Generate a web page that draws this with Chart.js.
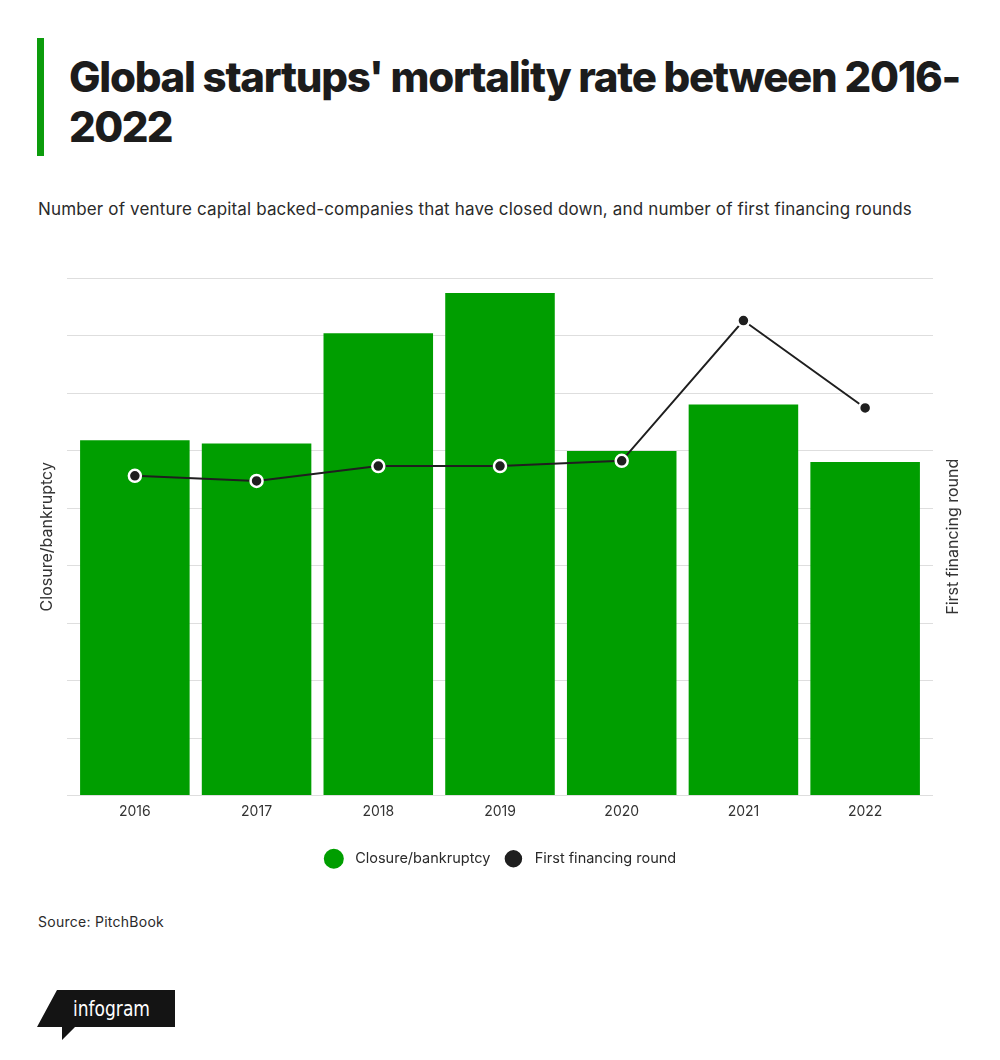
<!DOCTYPE html>
<html>
<head>
<meta charset="utf-8">
<title>Global startups' mortality rate between 2016-2022</title>
<script src="https://cdn.jsdelivr.net/npm/chart.js@4.4.0/dist/chart.umd.min.js"></script>
<style>
  html, body { margin: 0; padding: 0; background: #fff; }
  #page { position: relative; width: 1000px; height: 1060px; overflow: hidden;
          font-family: Inter, "Noto Sans", sans-serif; color: #222; }
  #accent { position: absolute; left: 37px; top: 38px; width: 7px; height: 118px; background: #0c9c0c; }
  #title { position: absolute; left: 69px; top: 52px; margin: 0; font-size: 42px; line-height: 50px;
           font-weight: 800; color: #1c1c1c; white-space: nowrap; }
  #title span { display: inline-block; }
  #subtitle { position: absolute; left: 38px; top: 198px; font-size: 17px; line-height: 22px;
              color: #2a2a2a; white-space: nowrap; }
  #source { position: absolute; left: 38px; top: 912px; font-size: 14px; line-height: 20px;
            color: #2a2a2a; white-space: nowrap; }
  #wrap { position: absolute; left: 0; top: 250px; width: 1000px; height: 626px; }
  #logo { position: absolute; left: 37px; top: 988px; }
</style>
</head>
<body>
<div id="page">
  <div id="accent"></div>
  <h1 id="title"><span id="t1">Global startups' mortality rate between 2016-</span><br><span id="t2">2022</span></h1>
  <div id="subtitle">Number of venture capital backed-companies that have closed down, and number of first financing rounds</div>
  <div id="wrap"><canvas id="chart"></canvas></div>
  <div id="source">Source: PitchBook</div>
  <svg id="logo" width="140" height="56" viewBox="0 0 140 56">
    <polygon points="20,2 138,2 138,39 38,39 25,52 25,39 0,39" fill="#141414"/>
    <text x="36" y="28" fill="#fff" font-size="21" textLength="77" lengthAdjust="spacingAndGlyphs"
          font-family="'DejaVu Sans Condensed', 'Liberation Sans Narrow', sans-serif">infogram</text>
  </svg>
</div>
<script>
// values (no axis ticks shown, units are relative)
var years = ['2016', '2017', '2018', '2019', '2020', '2021', '2022'];
var closures = [618, 612, 804, 874, 599, 680, 580];
var firstRounds = [5560, 5470, 5730, 5730, 5820, 8260, 6740];
var closureMax = 900, closureStep = 100;
var roundMax = 9000, roundStep = 1000;
var leftTitle = 'Closure/bankruptcy';
var rightTitle = 'First financing round';

var green = '#009e00';
var ink = '#1f1f1f';
var gridColor = '#dedede';
var fontFamily = 'Inter, "Noto Sans", sans-serif';

// squeeze the html texts to the widths of the reference
function fitWidth(el, target) {
  var n = el.textContent.length;
  var w = el.getBoundingClientRect().width;
  el.style.letterSpacing = ((target - w) / n) + 'px';
}
fitWidth(document.getElementById('t1'), 891);
fitWidth(document.getElementById('t2'), 103);
fitWidth(document.getElementById('subtitle'), 874);
fitWidth(document.getElementById('source'), 126);

Chart.defaults.font.family = fontFamily;
Chart.defaults.color = '#333';

// right axis title reads bottom-to-top like the left one
var rightTitlePlugin = {
  id: 'rightTitle',
  afterDraw: function (chart) {
    var s = chart.scales.y1;
    var c = chart.ctx;
    var area = chart.chartArea;
    c.save();
    c.translate(s.right - 47, (area.top + area.bottom) / 2);
    c.rotate(-Math.PI / 2);
    c.font = '16px ' + fontFamily;
    c.fillStyle = '#333';
    c.textAlign = 'center';
    c.textBaseline = 'middle';
    c.fillText(rightTitle, 0, 0);
    c.restore();
  }
};

var ctx = document.getElementById('chart');
new Chart(ctx, {
  data: {
    labels: years,
    datasets: [{
      type: 'line',
      label: 'First financing round',
      data: firstRounds,
      yAxisID: 'y1',
      order: 0,
      borderColor: ink,
      backgroundColor: ink,
      borderWidth: 2,
      tension: 0,
      pointRadius: 6,
      pointHoverRadius: 7,
      pointBackgroundColor: ink,
      pointBorderColor: '#fff',
      pointBorderWidth: 2.5
    }, {
      type: 'bar',
      label: 'Closure/bankruptcy',
      data: closures,
      yAxisID: 'y',
      order: 1,
      backgroundColor: green,
      borderWidth: 0,
      barPercentage: 0.9,
      categoryPercentage: 1.0
    }]
  },
  options: {
    responsive: true,
    maintainAspectRatio: false,
    animation: false,
    layout: { padding: { top: 28, left: 0, right: 0, bottom: 0 } },
    scales: {
      x: {
        grid: { display: false, drawTicks: false },
        border: { display: false },
        ticks: { color: '#333', font: { size: 14 }, padding: 8 },
        afterFit: function (s) { s.height = 43; }
      },
      y: {
        position: 'left',
        min: 0, max: closureMax,
        ticks: { display: false, stepSize: closureStep },
        grid: { color: gridColor, lineWidth: 1, drawTicks: true, tickLength: 7 },
        border: { display: false },
        title: { display: true, text: leftTitle, color: '#333',
                 font: { size: 16 }, padding: { top: 37.4, bottom: 0 } },
        afterFit: function (s) { s.width = 74; }
      },
      y1: {
        position: 'right',
        min: 0, max: roundMax,
        ticks: { display: false, stepSize: roundStep },
        grid: { color: gridColor, lineWidth: 1, drawOnChartArea: false, drawTicks: true, tickLength: 7 },
        border: { display: false },
        title: { display: false, text: rightTitle },
        afterFit: function (s) { s.width = 74; }
      }
    },
    plugins: {
      legend: {
        position: 'bottom',
        reverse: true,
        labels: {
          usePointStyle: true,
          pointStyle: 'circle',
          pointStyleWidth: 20,
          boxHeight: 14,
          padding: 13,
          color: '#2a2a2a',
          font: { size: 14.5 },
          generateLabels: function (chart) {
            var items = Chart.defaults.plugins.legend.labels.generateLabels(chart);
            items.forEach(function (it) { it.text = ' ' + it.text; });
            return items;
          }
        }
      },
      tooltip: { enabled: true }
    }
  },
  plugins: [rightTitlePlugin]
});
</script>
</body>
</html>
